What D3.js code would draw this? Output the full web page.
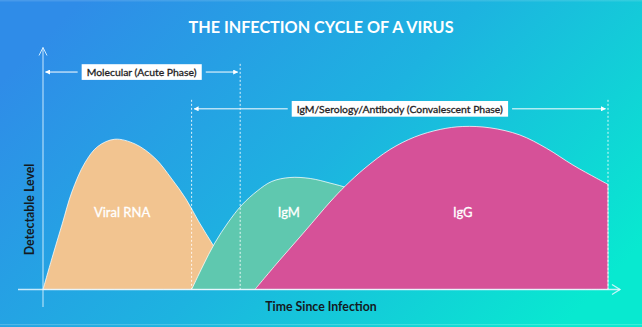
<!DOCTYPE html>
<html>
<head>
<meta charset="utf-8">
<script src="https://cdn.jsdelivr.net/npm/d3@7"></script>
<style>
  html, body { margin: 0; padding: 0; background: #2a8fe6; }
  svg { display: block; }
  text { font-family: Lato, "Open Sans", sans-serif; }
</style>
</head>
<body>
<svg id="chart" width="642" height="327"></svg>
<script>
// Relative detectable level (0-100) over time since infection (0-100)
const viralRNA = [
  [0, 0], [1.6, 19.3], [3.4, 40.1], [5.1, 59.6], [7.4, 77.4], [9.7, 87.5],
  [12.7, 91.9], [16.3, 89.0], [19.8, 80.4], [22.8, 67.6], [25.3, 55.4],
  [27.6, 41.3], [30.1, 27.2], [32.6, 13.1], [34.9, 0]
];
const igM = [
  [26.3, 0], [28.3, 14.4], [30.4, 28.4], [32.7, 40.7], [35.2, 51.7], [37.9, 60.2],
  [40.5, 66.1], [43.7, 68.5], [47.3, 67.9], [50.8, 65.1], [54.3, 61.5],
  [59.6, 51.7], [66.7, 30.3], [73.8, 0]
];
const igG = [
  [37.5, 0], [41.9, 18.0], [46.4, 35.8], [50.8, 53.5], [53.5, 63.3], [57.0, 74.3],
  [61.4, 85.6], [65.8, 93.3], [70.3, 97.9], [74.3, 99.7], [79.1, 98.9],
  [84.4, 94.5], [89.1, 86.4], [93.8, 76.1], [98.0, 68.0], [100, 64.3]
];

const seriesNames = ["Viral RNA", "IgM", "IgG"];
const seriesData = [viralRNA, igM, igG];
const seriesLabelAt = [[14, 44.3], [43.5, 44.3], [74.3, 44.3]];
const seriesColors = ["#f2c490", "#5fc8af", "#d65198"];

const phaseLabels = ["Molecular (Acute Phase)", "IgM/Serology/Antibody (Convalescent Phase)"];
const phaseStart = [0, 26.3];
const phaseEnd = [34.9, 100];
const phaseLevel = [133, 110.5];      // arrow height, on the level scale
const phaseGuideTop = [138, 116];     // where the dotted guides begin

const titleText = "THE INFECTION CYCLE OF A VIRUS";
const xAxisTitle = "Time Since Infection";
const yAxisTitle = "Detectable Level";

const svg = d3.select("#chart");
const W = 642, H = 327;

const x = d3.scaleLinear().domain([0, 100]).range([43, 608]);
const y = d3.scaleLinear().domain([0, 100]).range([289.5, 126]);

// Background gradient
const defs = svg.append("defs");
const grad = defs.append("linearGradient").attr("id", "bg")
  .attr("x1", "0").attr("y1", "0.25").attr("x2", "1").attr("y2", "0.75");
grad.append("stop").attr("offset", "0%").attr("stop-color", "#2f8ce8");
grad.append("stop").attr("offset", "50%").attr("stop-color", "#1db3e0");
grad.append("stop").attr("offset", "100%").attr("stop-color", "#08e9d0");
svg.append("rect").attr("width", W).attr("height", H).attr("fill", "url(#bg)");
svg.append("rect").attr("x", 0).attr("y", 0).attr("width", W).attr("height", 1.5)
  .attr("fill", "#fff").attr("opacity", 0.12);
svg.append("rect").attr("x", 0).attr("y", 324).attr("width", W).attr("height", 1.2)
  .attr("fill", "#fff").attr("opacity", 0.2);

// Arrowhead marker for phase spans
defs.append("marker").attr("id", "tri")
  .attr("viewBox", "0 0 10 10").attr("refX", 9).attr("refY", 5)
  .attr("markerWidth", 5).attr("markerHeight", 5).attr("orient", "auto-start-reverse")
  .attr("markerUnits", "userSpaceOnUse")
  .append("path").attr("d", "M0,0L10,5L0,10Z").attr("fill", "#fff");

// Title
svg.append("text").attr("x", 321).attr("y", 33).attr("text-anchor", "middle")
  .attr("fill", "#fff").attr("font-weight", 700).attr("font-size", 16.2)
  .text(titleText);

// Areas
const area = d3.area()
  .x(d => x(d[0])).y0(y(0)).y1(d => y(d[1]))
  .curve(d3.curveCatmullRom.alpha(0.5));

seriesData.forEach((data, i) => {
  svg.append("path").datum(data)
    .attr("d", area)
    .attr("fill", seriesColors[i])
    .attr("stroke", "#ffffff").attr("stroke-opacity", 0.75).attr("stroke-width", 1);
});

// Dotted phase guides
const guideXs = [phaseStart[1], phaseEnd[0], phaseEnd[1]];
const guideTops = [phaseGuideTop[1], phaseGuideTop[0], phaseGuideTop[1]];
guideXs.forEach((t, i) => {
  svg.append("line")
    .attr("x1", x(t)).attr("x2", x(t))
    .attr("y1", y(guideTops[i])).attr("y2", y(0))
    .attr("stroke", "#fff").attr("stroke-opacity", 0.85)
    .attr("stroke-width", 1).attr("stroke-dasharray", "2,2");
});

// Series labels
seriesNames.forEach((name, i) => {
  svg.append("text")
    .attr("x", x(seriesLabelAt[i][0])).attr("y", y(seriesLabelAt[i][1]))
    .attr("text-anchor", "middle").attr("fill", "#fff")
    .attr("stroke", "#fff").attr("stroke-width", 0.3)
    .attr("font-size", 13).attr("font-weight", 400)
    .text(name);
});

// Phase spans with labelled boxes
phaseLabels.forEach((label, i) => {
  const x0 = x(phaseStart[i]) + 2.5, x1 = x(phaseEnd[i]) - 2.5;
  const yy = y(phaseLevel[i]);
  const cx = (x0 + x1) / 2;
  const g = svg.append("g");
  const txt = g.append("text").attr("x", cx).attr("y", yy + 3.8)
    .attr("text-anchor", "middle").attr("fill", "#1e1e24")
    .attr("font-size", 10.4).attr("font-weight", 400)
    .attr("stroke", "#1e1e24").attr("stroke-width", 0.3)
    .text(label);
  const bb = txt.node().getBBox();
  const padX = 5, bh = 15.7;
  g.insert("rect", "text")
    .attr("x", bb.x - padX).attr("y", yy - bh / 2)
    .attr("width", bb.width + 2 * padX).attr("height", bh)
    .attr("fill", "#fff");
  const gap = 4;
  g.append("line").attr("x1", bb.x - padX - gap).attr("x2", x0).attr("y1", yy).attr("y2", yy)
    .attr("stroke", "#fff").attr("stroke-width", 1).attr("marker-end", "url(#tri)");
  g.append("line").attr("x1", bb.x + bb.width + padX + gap).attr("x2", x1).attr("y1", yy).attr("y2", yy)
    .attr("stroke", "#fff").attr("stroke-width", 1).attr("marker-end", "url(#tri)");
});

// Axes: plain arrowed lines
const axisColor = "#e6f7ff";
svg.append("line").attr("x1", 18).attr("x2", 620).attr("y1", y(0)).attr("y2", y(0))
  .attr("stroke", axisColor).attr("stroke-opacity", 0.85).attr("stroke-width", 1.3);
svg.append("path")
  .attr("d", `M612,${y(0) - 5}L620,${y(0)}L612,${y(0) + 5}`)
  .attr("fill", "none").attr("stroke", axisColor).attr("stroke-opacity", 0.85).attr("stroke-width", 1.3);
svg.append("line").attr("x1", x(0)).attr("x2", x(0)).attr("y1", 47.5).attr("y2", 307)
  .attr("stroke", axisColor).attr("stroke-opacity", 0.85).attr("stroke-width", 1);
svg.append("path")
  .attr("d", `M${x(0) - 4},55.5L${x(0)},47.5L${x(0) + 4},55.5`)
  .attr("fill", "none").attr("stroke", axisColor).attr("stroke-opacity", 0.85).attr("stroke-width", 1);

// Axis titles
svg.append("text").attr("x", 321).attr("y", 311).attr("text-anchor", "middle")
  .attr("fill", "#141a22").attr("font-weight", 700).attr("font-size", 12.3)
  .text(xAxisTitle);
svg.append("text").attr("transform", "translate(33.5,209.5) rotate(-90)")
  .attr("text-anchor", "middle")
  .attr("fill", "#141a22").attr("font-weight", 700).attr("font-size", 12.3)
  .text(yAxisTitle);
</script>
</body>
</html>
